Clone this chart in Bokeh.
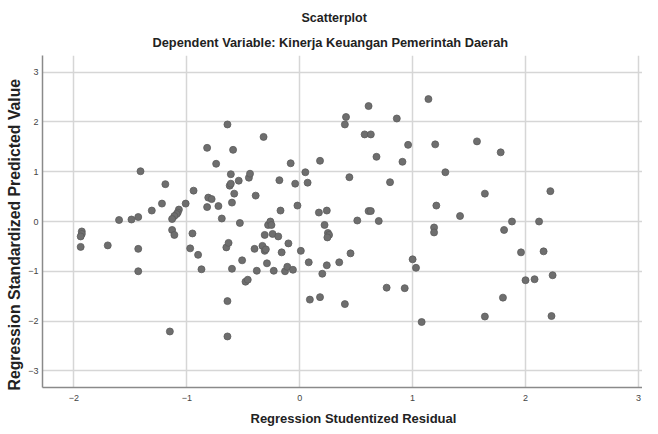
from bokeh.plotting import figure
from bokeh.models import Title, Range1d, FixedTicker
from bokeh.embed import file_html
from bokeh.resources import INLINE

# Regression Studentized Residual (x) vs Regression Standardized Predicted Value (y)
residual = [
    -1.94, -1.93, -1.93, -1.94, -1.70, -1.60, -1.49, -1.43, -1.43, -1.43,
    -1.41, -1.31, -1.22, -1.19, -1.15, -1.13, -1.11, -1.07, -1.08, -1.09,
    -1.11, -1.13, -1.01, -0.95, -0.97, -0.94, -0.90, -0.87, -0.82, -0.81,
    -0.78, -0.82, -0.74, -0.72, -0.69, -0.64, -0.65, -0.63, -0.64, -0.64,
    -0.61, -0.62, -0.61, -0.60, -0.59, -0.58, -0.60, -0.54, -0.53, -0.51,
    -0.48, -0.46, -0.45, -0.44, -0.39, -0.38, -0.40, -0.33, -0.31, -0.30,
    -0.32, -0.31, -0.24, -0.19, -0.29, -0.23, -0.28, -0.26, -0.25, -0.18,
    -0.17, -0.16, -0.10, -0.13, -0.11, -0.06, -0.08, -0.04, -0.02, 0.01,
    0.05, 0.07, 0.08, 0.09, 0.17, 0.18, 0.18, 0.20, 0.22, 0.24,
    0.24, 0.25, 0.26, 0.245, 0.35, 0.40, 0.41, 0.40, 0.44, 0.45,
    0.51, 0.575, 0.63, 0.61, 0.61, 0.63, 0.68, 0.70, 0.77, 0.80,
    0.86, 0.91, 0.93, 0.96, 1.00, 1.03, 1.08, 1.14, 1.20, 1.21,
    1.19, 1.19, 1.29, 1.42, 1.57, 1.64, 1.64, 1.78, 1.80, 1.81,
    1.88, 1.96, 2.00, 2.08, 2.12, 2.16, 2.22, 2.24, 2.23,
]
predicted = [
    -0.51, -0.20, -0.25, -0.30, -0.48, 0.03, 0.04, 0.09, -0.55, -1.00,
    1.01, 0.22, 0.36, 0.75, -2.21, -0.17, -0.27, 0.24, 0.18, 0.15,
    0.11, 0.05, 0.36, -0.24, -0.54, 0.62, -0.67, -0.96, 1.48, 0.48,
    0.45, 0.29, 1.16, 0.31, 0.06, 1.95, -0.52, -0.43, -1.60, -2.31,
    0.95, 0.72, 0.76, 0.38, 1.44, 0.56, -0.95, 0.82, -0.03, -0.78,
    -1.21, -1.17, 0.88, 0.96, 0.52, -0.99, -0.55, -0.49, -0.59, -0.56,
    1.70, -0.27, -0.25, -0.30, -0.84, -0.99, -0.07, 0.00, -0.07, 0.83,
    0.22, -0.62, -0.44, -1.00, -0.91, -0.97, 1.17, 0.76, 0.32, -0.59,
    0.99, 0.78, -0.82, -1.57, 0.18, 1.22, -1.52, -1.05, -0.07, 0.22,
    -0.88, -0.23, -0.27, -0.32, -0.82, 1.95, 2.10, -1.66, 0.89, -0.64,
    0.02, 1.75, 1.75, 2.32, 0.21, 0.21, 1.30, 0.01, -1.33, 0.79,
    2.07, 1.20, -1.34, 1.54, -0.76, -0.93, -2.02, 2.46, 1.55, 0.32,
    -0.12, -0.22, 0.99, 0.11, 1.61, 0.56, -1.91, 1.39, -1.53, -0.17,
    0.00, -0.62, -1.18, -1.16, 0.00, -0.60, 0.61, -1.08, -1.90,
]
x_ticks = [-2, -1, 0, 1, 2, 3]
y_ticks = [-3, -2, -1, 0, 1, 2, 3]

FONT = "Liberation Sans"

p = figure(width=642, height=432, output_backend="svg", toolbar_location=None,
           x_range=Range1d(-2.278, 3.036), y_range=Range1d(-3.336, 3.336),
           min_border_left=41, min_border_right=0, min_border_top=55, min_border_bottom=45)
p.title = None
p.outline_line_color = None
p.background_fill_color = "white"
p.border_fill_color = "white"

p.add_layout(Title(text="Dependent Variable: Kinerja Keuangan Pemerintah Daerah", align="left",
                   text_font=FONT, text_font_size="12.8px", text_font_style="bold",
                   text_color="#222222", standoff=11, offset=110), "above")
p.add_layout(Title(text="Scatterplot", align="left",
                   text_font=FONT, text_font_size="12.5px", text_font_style="bold",
                   text_color="#222222", standoff=6, offset=259), "above")

p.scatter(residual, predicted, size=7, fill_color="#6e6e6e", line_color="#5c5c5c", line_width=0.8)

for ax in (p.xaxis, p.yaxis):
    ax.axis_line_color = "#8a8a8a"
    ax.axis_line_width = 1.5
    ax.major_tick_line_color = None
    ax.minor_tick_line_color = None
    ax.major_tick_out = 0
    ax.major_tick_in = 0
    ax.minor_tick_out = 0
    ax.major_label_text_font = FONT
    ax.major_label_text_font_size = "9px"
    ax.major_label_text_color = "#444444"

p.xaxis.major_label_standoff = 7
p.yaxis.major_label_standoff = 4
p.xaxis.ticker = FixedTicker(ticks=x_ticks)
p.yaxis.ticker = FixedTicker(ticks=y_ticks)

# axis titles as side titles so they can be positioned like the original
p.add_layout(Title(text="Regression Studentized Residual", align="left",
                   text_font=FONT, text_font_size="13px", text_font_style="bold",
                   text_color="#222222", standoff=10, offset=208), "below")
p.add_layout(Title(text="Regression Standardized Predicted Value", align="left",
                   text_font=FONT, text_font_size="15.8px", text_font_style="bold",
                   text_color="#222222", standoff=6, offset=-3), "left")

p.xgrid.grid_line_color = "#d6d6d6"
p.ygrid.grid_line_color = "#d6d6d6"
p.xgrid.grid_line_width = 1.5
p.ygrid.grid_line_width = 1.5

open("out.html", "w").write(file_html(p, INLINE))
